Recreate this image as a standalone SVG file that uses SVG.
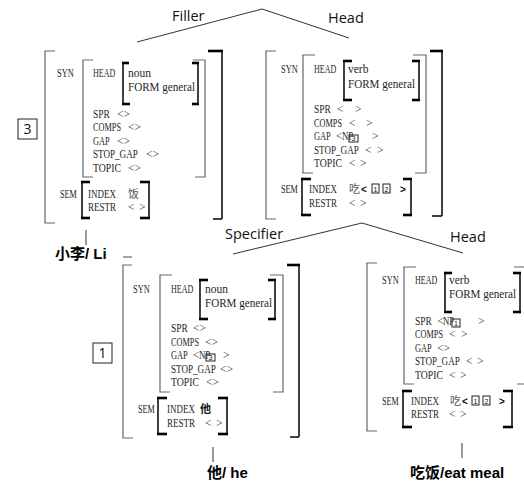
<svg xmlns="http://www.w3.org/2000/svg" width="524" height="481" viewBox="0 0 524 481">
<style>
.g{stroke:#666;stroke-width:1.2;fill:none}
.k{stroke:#111;stroke-width:1.6;fill:none}
.kt{stroke:#000;stroke-width:2.6;fill:none}
.ln{stroke:#333;stroke-width:1;fill:none}
.t{font-family:"Liberation Serif","Noto Sans CJK SC",serif;font-size:11.5px;fill:#262626}
.c{font-family:"Noto Sans CJK SC",sans-serif;font-size:11px;fill:#555}
.cb{font-family:"Noto Sans CJK SC",sans-serif;font-size:11px;font-weight:bold;fill:#111}
.ab{font-family:"Liberation Sans",sans-serif;font-size:10px;font-weight:bold;fill:#111}
.lab{font-family:"Open Sans","Liberation Sans",sans-serif;font-size:14.5px;fill:#111}
.w{font-family:"Liberation Sans","Noto Sans CJK SC",sans-serif;font-size:15px;font-weight:bold;fill:#000}
.tag{font-family:"Open Sans","Liberation Sans",sans-serif;font-size:14px;fill:#111;text-anchor:middle}
.bx{fill:none;stroke:#222;stroke-width:1}
.sn{font-family:"Liberation Sans",sans-serif;font-size:7px;fill:#111;text-anchor:middle}
</style>

<g id="connectors">
<line class="ln" x1="262" y1="9" x2="137" y2="42"/>
<line class="ln" x1="262" y1="9" x2="349" y2="38"/>
<line class="ln" x1="362" y1="223" x2="233" y2="254"/>
<line class="ln" x1="362" y1="223" x2="463" y2="253"/>
<line class="ln" x1="86" y1="230" x2="86" y2="245"/>
<line class="ln" x1="213" y1="447" x2="213" y2="462"/>
<line class="ln" x1="462" y1="443" x2="462" y2="458"/>
</g>

<g id="edge-labels">
<text class="lab" x="172" y="21">Filler</text>
<text class="lab" x="328" y="23">Head</text>
<text class="lab" x="225" y="239">Specifier</text>
<text class="lab" x="450" y="242">Head</text>
</g>

<g id="node-filler">
<path class="g" d="M55,51 H45 V223 H55"/>
<line class="k" x1="222" y1="51" x2="222" y2="219"/>
<line class="kt" x1="208" y1="51" x2="223" y2="51"/>
<line class="k" x1="213" y1="219" x2="222" y2="219"/>
<rect class="bx" x="18" y="119" width="19" height="20"/>
<text class="tag" x="27.5" y="134">3</text>
<text class="t" x="57" y="77" textLength="16.8" lengthAdjust="spacingAndGlyphs">SYN</text>
<path class="g" d="M93,60 H83 V177 H93"/>
<path class="g" d="M193,60 H205 V177 H195"/>
<text class="t" x="93" y="77" textLength="22.4" lengthAdjust="spacingAndGlyphs">HEAD</text>
<line class="k" x1="123" y1="63" x2="123" y2="104"/>
<line class="kt" x1="122" y1="63" x2="129" y2="63"/>
<line class="kt" x1="122" y1="104" x2="130" y2="104"/>
<line class="k" x1="198" y1="63" x2="198" y2="104"/>
<line class="kt" x1="192" y1="63" x2="199" y2="63"/>
<line class="kt" x1="192" y1="104" x2="199" y2="104"/>
<text class="t" x="128" y="77">noun</text>
<text class="t" x="128" y="91" textLength="67" lengthAdjust="spacingAndGlyphs">FORM general</text>
<text class="t" x="93" y="117.5" textLength="16.8" lengthAdjust="spacingAndGlyphs">SPR</text>
<text class="t" x="117" y="117.5">&lt;&gt;</text>
<text class="t" x="93" y="131" textLength="28" lengthAdjust="spacingAndGlyphs">COMPS</text>
<text class="t" x="128" y="131">&lt;&gt;</text>
<text class="t" x="93" y="144.5" textLength="16.8" lengthAdjust="spacingAndGlyphs">GAP</text>
<text class="t" x="117" y="144.5">&lt;&gt;</text>
<text class="t" x="93" y="158" textLength="44.8" lengthAdjust="spacingAndGlyphs">STOP_GAP</text>
<text class="t" x="146" y="158">&lt;&gt;</text>
<text class="t" x="93" y="171.5" textLength="28" lengthAdjust="spacingAndGlyphs">TOPIC</text>
<text class="t" x="128" y="171.5">&lt;&gt;</text>
<text class="t" x="60" y="198" textLength="16.8" lengthAdjust="spacingAndGlyphs">SEM</text>
<line class="k" x1="82" y1="182" x2="82" y2="218"/>
<line class="kt" x1="81" y1="182" x2="90" y2="182"/>
<line class="kt" x1="81" y1="218" x2="90" y2="218"/>
<line class="k" x1="149" y1="182" x2="149" y2="218"/>
<line class="kt" x1="140" y1="182" x2="150" y2="182"/>
<line class="kt" x1="140" y1="218" x2="150" y2="218"/>
<text class="t" x="88" y="198" textLength="28" lengthAdjust="spacingAndGlyphs">INDEX</text>
<text class="c" x="128" y="198">饭</text>
<text class="t" x="88" y="211" textLength="28" lengthAdjust="spacingAndGlyphs">RESTR</text>
<text class="t" x="128" y="211">&lt;</text>
<text class="t" x="139" y="211">&gt;</text>
</g>

<g id="word-xiaoli">
<text class="w" x="55" y="259">小李/ Li</text>
<line class="g" x1="123" y1="257" x2="132" y2="257"/>
</g>

<g id="node-head-top">
<path class="g" d="M276,51 H266 V219 H276"/>
<line class="k" x1="442" y1="51" x2="442" y2="216"/>
<line class="kt" x1="430" y1="51" x2="443" y2="51"/>
<line class="k" x1="432" y1="216" x2="442" y2="216"/>
<text class="t" x="281" y="73" textLength="16.8" lengthAdjust="spacingAndGlyphs">SYN</text>
<path class="g" d="M315,55 H303 V173 H313"/>
<path class="g" d="M413,55 H426 V173 H415"/>
<text class="t" x="314" y="73" textLength="22.4" lengthAdjust="spacingAndGlyphs">HEAD</text>
<line class="k" x1="344" y1="61" x2="344" y2="100"/>
<line class="kt" x1="343" y1="61" x2="352" y2="61"/>
<line class="kt" x1="343" y1="100" x2="352" y2="100"/>
<line class="k" x1="419" y1="61" x2="419" y2="100"/>
<line class="kt" x1="412" y1="61" x2="420" y2="61"/>
<line class="kt" x1="412" y1="100" x2="420" y2="100"/>
<text class="t" x="348" y="73">verb</text>
<text class="t" x="348" y="88" textLength="67" lengthAdjust="spacingAndGlyphs">FORM general</text>
<text class="t" x="314" y="113" textLength="16.8" lengthAdjust="spacingAndGlyphs">SPR</text>
<text class="t" x="337" y="113">&lt;</text>
<text class="t" x="355" y="113">&gt;</text>
<text class="t" x="314" y="126.5" textLength="28" lengthAdjust="spacingAndGlyphs">COMPS</text>
<text class="t" x="349" y="126.5">&lt;</text>
<text class="t" x="366" y="126.5">&gt;</text>
<text class="t" x="314" y="140" textLength="16.8" lengthAdjust="spacingAndGlyphs">GAP</text>
<text class="t" x="336" y="140">&lt;</text>
<text class="t" x="342" y="140" textLength="11.2" lengthAdjust="spacingAndGlyphs">NP</text>
<rect class="bx" x="349" y="135" width="9" height="7" fill="#fff"/>
<text class="sn" x="353.5" y="141.3">3</text>
<text class="t" x="372" y="140">&gt;</text>
<text class="t" x="314" y="153.5" textLength="44.8" lengthAdjust="spacingAndGlyphs">STOP_GAP</text>
<text class="t" x="365" y="153.5">&lt;</text>
<text class="t" x="377" y="153.5">&gt;</text>
<text class="t" x="314" y="167" textLength="28" lengthAdjust="spacingAndGlyphs">TOPIC</text>
<text class="t" x="349" y="167">&lt;</text>
<text class="t" x="360" y="167">&gt;</text>
<text class="t" x="281" y="193" textLength="16.8" lengthAdjust="spacingAndGlyphs">SEM</text>
<line class="k" x1="302" y1="179" x2="302" y2="215"/>
<line class="kt" x1="301" y1="179" x2="311" y2="179"/>
<line class="kt" x1="301" y1="215" x2="311" y2="215"/>
<line class="k" x1="411" y1="179" x2="411" y2="215"/>
<line class="kt" x1="403" y1="179" x2="412" y2="179"/>
<line class="kt" x1="403" y1="215" x2="412" y2="215"/>
<text class="t" x="309" y="193" textLength="28" lengthAdjust="spacingAndGlyphs">INDEX</text>
<text class="c" x="349" y="193">吃</text>
<text class="ab" x="361" y="193">&lt;</text>
<rect class="bx" x="372" y="184" width="7" height="9"/>
<text class="sn" x="375.5" y="191.5">1</text>
<rect class="bx" x="383" y="184" width="7" height="9"/>
<text class="sn" x="386.5" y="191.5">2</text>
<text class="ab" x="400" y="193">&gt;</text>
<text class="t" x="309" y="207" textLength="28" lengthAdjust="spacingAndGlyphs">RESTR</text>
<text class="t" x="349" y="207">&lt;</text>
<text class="t" x="360" y="207">&gt;</text>
</g>

<g id="node-specifier">
<path class="g" d="M132,265 H123 V438 H133"/>
<line class="k" x1="299" y1="265" x2="299" y2="437"/>
<line class="kt" x1="287" y1="265" x2="300" y2="265"/>
<line class="k" x1="290" y1="437" x2="299" y2="437"/>
<rect class="bx" x="93" y="343" width="19" height="20"/>
<text class="tag" x="102.5" y="358">1</text>
<text class="t" x="133" y="293" textLength="16.8" lengthAdjust="spacingAndGlyphs">SYN</text>
<path class="g" d="M172,275 H160 V392 H170"/>
<path class="g" d="M270,275 H283 V392 H273"/>
<text class="t" x="171" y="293" textLength="22.4" lengthAdjust="spacingAndGlyphs">HEAD</text>
<line class="k" x1="200" y1="280" x2="200" y2="319"/>
<line class="kt" x1="199" y1="280" x2="208" y2="280"/>
<line class="kt" x1="199" y1="319" x2="208" y2="319"/>
<line class="k" x1="275" y1="280" x2="275" y2="319"/>
<line class="kt" x1="268" y1="280" x2="276" y2="280"/>
<line class="kt" x1="268" y1="319" x2="276" y2="319"/>
<text class="t" x="205" y="293">noun</text>
<text class="t" x="205" y="307" textLength="67" lengthAdjust="spacingAndGlyphs">FORM general</text>
<text class="t" x="171" y="332" textLength="16.8" lengthAdjust="spacingAndGlyphs">SPR</text>
<text class="t" x="193" y="332">&lt;&gt;</text>
<text class="t" x="171" y="345.5" textLength="28" lengthAdjust="spacingAndGlyphs">COMPS</text>
<text class="t" x="205" y="345.5">&lt;&gt;</text>
<text class="t" x="171" y="359" textLength="16.8" lengthAdjust="spacingAndGlyphs">GAP</text>
<text class="t" x="193" y="359">&lt;</text>
<text class="t" x="199" y="359" textLength="11.2" lengthAdjust="spacingAndGlyphs">NP</text>
<rect class="bx" x="206" y="354" width="9" height="7" fill="#fff"/>
<text class="sn" x="210.5" y="360.3">3</text>
<text class="t" x="223" y="359">&gt;</text>
<text class="t" x="171" y="372.5" textLength="44.8" lengthAdjust="spacingAndGlyphs">STOP_GAP</text>
<text class="t" x="220" y="372.5">&lt;&gt;</text>
<text class="t" x="171" y="386" textLength="28" lengthAdjust="spacingAndGlyphs">TOPIC</text>
<text class="t" x="206" y="386">&lt;&gt;</text>
<text class="t" x="138" y="413" textLength="16.8" lengthAdjust="spacingAndGlyphs">SEM</text>
<line class="k" x1="158" y1="398" x2="158" y2="434"/>
<line class="kt" x1="157" y1="398" x2="167" y2="398"/>
<line class="kt" x1="157" y1="434" x2="167" y2="434"/>
<line class="k" x1="227" y1="398" x2="227" y2="434"/>
<line class="kt" x1="218" y1="398" x2="228" y2="398"/>
<line class="kt" x1="218" y1="434" x2="228" y2="434"/>
<text class="t" x="167" y="413" textLength="28" lengthAdjust="spacingAndGlyphs">INDEX</text>
<text class="cb" x="200" y="413">他</text>
<text class="t" x="167" y="427" textLength="28" lengthAdjust="spacingAndGlyphs">RESTR</text>
<text class="t" x="205" y="427">&lt;</text>
<text class="t" x="216" y="427">&gt;</text>
</g>

<g id="word-ta">
<text class="w" x="207" y="478">他/ he</text>
</g>

<g id="node-head-bottom">
<path class="g" d="M377,263 H367 V431 H377"/>
<text class="t" x="382" y="284" textLength="16.8" lengthAdjust="spacingAndGlyphs">SYN</text>
<path class="g" d="M416,267 H404 V384 H414"/>
<path class="g" d="M514,267 H527 V384 H517"/>
<text class="t" x="415" y="284" textLength="22.4" lengthAdjust="spacingAndGlyphs">HEAD</text>
<line class="k" x1="445" y1="273" x2="445" y2="312"/>
<line class="kt" x1="444" y1="273" x2="452" y2="273"/>
<line class="kt" x1="444" y1="312" x2="452" y2="312"/>
<line class="k" x1="520" y1="273" x2="520" y2="312"/>
<line class="kt" x1="513" y1="273" x2="521" y2="273"/>
<line class="kt" x1="513" y1="312" x2="521" y2="312"/>
<text class="t" x="449" y="284">verb</text>
<text class="t" x="449" y="298" textLength="67" lengthAdjust="spacingAndGlyphs">FORM general</text>
<text class="t" x="415" y="324.5" textLength="16.8" lengthAdjust="spacingAndGlyphs">SPR</text>
<text class="t" x="437.4" y="324.5">&lt;</text>
<text class="t" x="443" y="324.5" textLength="11.2" lengthAdjust="spacingAndGlyphs">NP</text>
<rect class="bx" x="452" y="319" width="8" height="8" fill="#fff"/>
<text class="sn" x="456" y="325.5">1</text>
<text class="t" x="478" y="324.5">&gt;</text>
<text class="t" x="415" y="338" textLength="28" lengthAdjust="spacingAndGlyphs">COMPS</text>
<text class="t" x="449" y="338">&lt;</text>
<text class="t" x="461" y="338">&gt;</text>
<text class="t" x="415" y="351.5" textLength="16.8" lengthAdjust="spacingAndGlyphs">GAP</text>
<text class="t" x="437" y="351.5">&lt;&gt;</text>
<text class="t" x="415" y="365" textLength="44.8" lengthAdjust="spacingAndGlyphs">STOP_GAP</text>
<text class="t" x="466" y="365">&lt;</text>
<text class="t" x="477" y="365">&gt;</text>
<text class="t" x="415" y="378.5" textLength="28" lengthAdjust="spacingAndGlyphs">TOPIC</text>
<text class="t" x="449" y="378.5">&lt;</text>
<text class="t" x="460" y="378.5">&gt;</text>
<text class="t" x="382" y="405" textLength="16.8" lengthAdjust="spacingAndGlyphs">SEM</text>
<line class="k" x1="403" y1="391" x2="403" y2="427"/>
<line class="kt" x1="402" y1="391" x2="412" y2="391"/>
<line class="kt" x1="402" y1="427" x2="412" y2="427"/>
<line class="k" x1="512" y1="391" x2="512" y2="427"/>
<line class="kt" x1="503" y1="391" x2="513" y2="391"/>
<line class="kt" x1="503" y1="427" x2="513" y2="427"/>
<text class="t" x="411" y="405" textLength="28" lengthAdjust="spacingAndGlyphs">INDEX</text>
<text class="c" x="450" y="405">吃</text>
<text class="ab" x="462" y="405">&lt;</text>
<rect class="bx" x="472" y="396" width="7" height="9"/>
<text class="sn" x="475.5" y="403.5">1</text>
<rect class="bx" x="483" y="396" width="7" height="9"/>
<text class="sn" x="486.5" y="403.5">2</text>
<text class="ab" x="499" y="405">&gt;</text>
<text class="t" x="411" y="418" textLength="28" lengthAdjust="spacingAndGlyphs">RESTR</text>
<text class="t" x="449" y="418">&lt;</text>
<text class="t" x="460" y="418">&gt;</text>
</g>

<g id="word-chifan">
<text class="w" x="410" y="478">吃饭/eat meal</text>
</g>
</svg>
